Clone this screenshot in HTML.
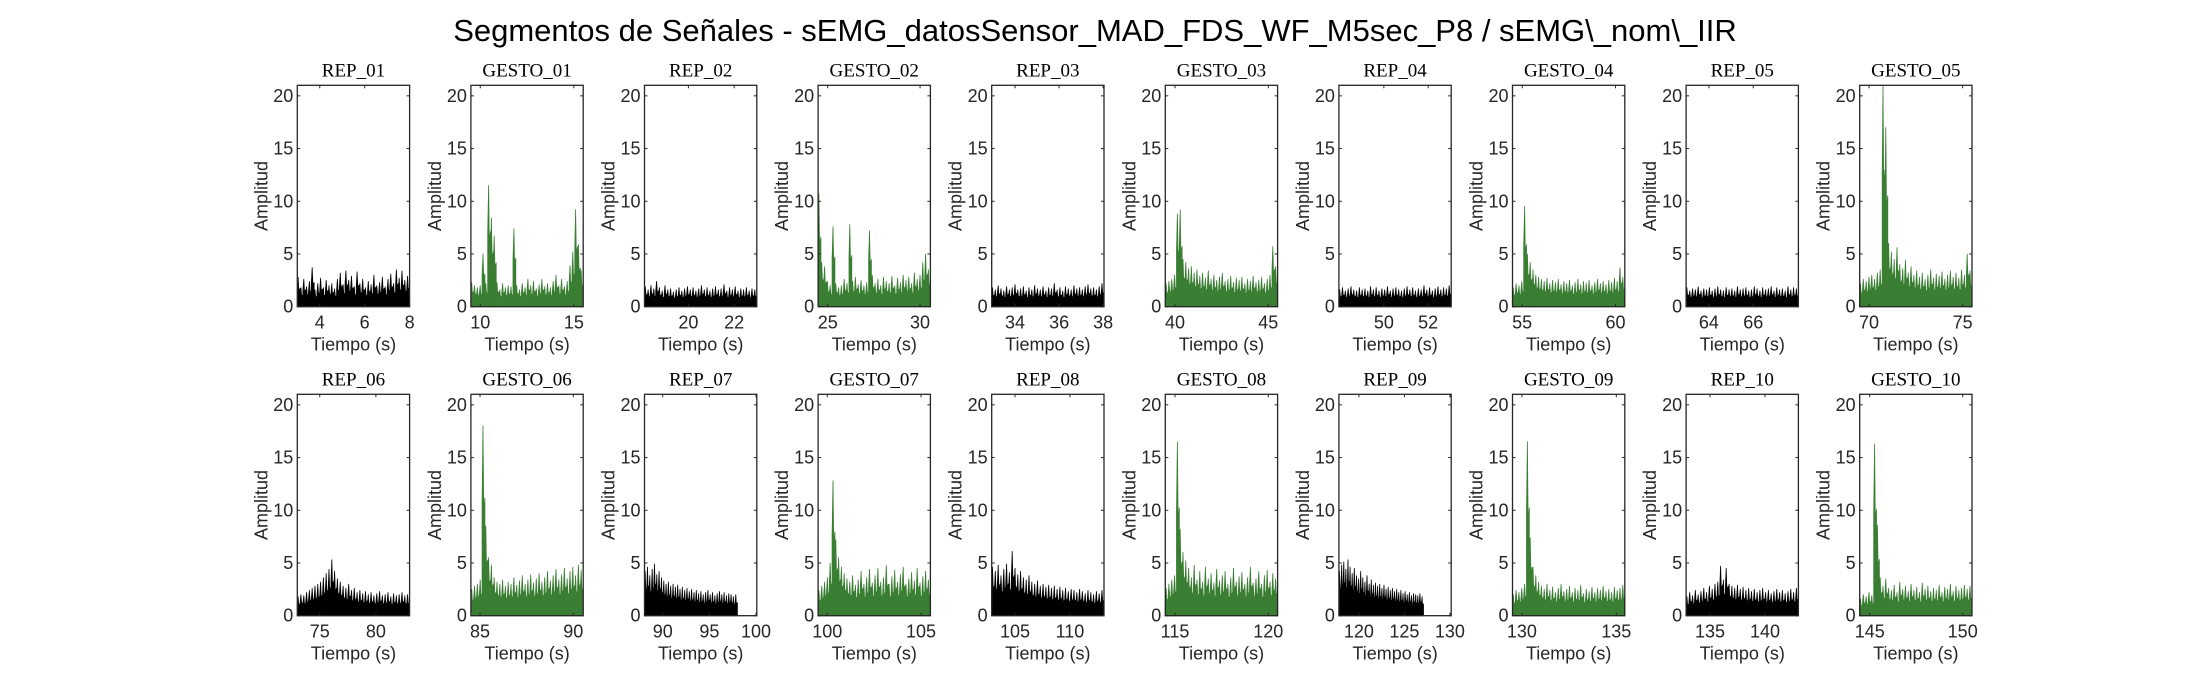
<!DOCTYPE html>
<html><head><meta charset="utf-8"><style>
body{margin:0;background:#fff;}
svg{display:block;}
text{font-family:"Liberation Sans",sans-serif;fill:#262626;}
.st{font-family:"Liberation Serif",serif;fill:#000;font-size:19px;}
</style></head><body>
<svg id="fig" width="2187" height="688" viewBox="0 0 2187 688">
<rect width="2187" height="688" fill="#fff"/>
<text x="1095" y="41" text-anchor="middle" font-size="31" style="fill:#000">Segmentos de Señales - sEMG_datosSensor_MAD_FDS_WF_M5sec_P8 / sEMG\_nom\_IIR</text>
</svg>
<script>
const titles=["REP_01","GESTO_01","REP_02","GESTO_02","REP_03","GESTO_03","REP_04","GESTO_04","REP_05","GESTO_05","REP_06","GESTO_06","REP_07","GESTO_07","REP_08","GESTO_08","REP_09","GESTO_09","REP_10","GESTO_10"];
const xMin=[3,9.5,18.08,24.48,32.94,39.48,47.97,54.48,62.97,69.5,73,84.51,88.05,99.51,102.88,114.48,117.8,129.5,132.83,144.46];
const xMax=[8,15.5,22.99,30.56,38.04,45.5,53.04,60.5,68.04,75.5,83,90.53,100.08,105.5,113.1,120.5,130.14,135.45,143.04,150.5];
const tStart=[3,9.5,18.08,24.48,32.94,39.48,47.97,54.48,62.97,69.5,73,84.51,88.05,99.51,102.88,114.48,117.8,129.5,132.83,144.46];
const tEnd=[8,15.5,22.99,30.56,38.04,45.5,53.04,60.5,68.04,75.5,83,90.53,98.0,105.5,113.1,120.5,127.1,135.45,143.04,150.5];
const xTicks=[[4,6,8],[10,15],[20,22],[25,30],[34,36,38],[40,45],[50,52],[55,60],[64,66],[70,75],[75,80],[85,90],[90,95,100],[100,105],[105,110],[115,120],[120,125,130],[130,135],[135,140],[145,150]];
const yTicks=[0,5,10,15,20];
const s01=[2.8,1.8,2.6,1.9,2.4,3.7,1.6,2.2,2.7,1.8,2.5,2.0,2.2,1.7,2.6,3.2,2.1,3.4,2.5,2.9,1.9,3.3,2.2,2.6,1.8,2.4,2.1,3.0,2.0,2.3,2.8,1.9,2.6,3.1,2.2,3.5,2.7,3.4,2.5,2.9];
const s02=[2.3,2.0,1.8,2.0,5.0,2.2,11.5,8.4,6.7,2.3,1.6,2.2,1.8,2.0,1.9,7.4,2.0,1.6,2.2,1.8,2.6,2.0,2.4,1.7,2.1,2.6,1.9,2.2,1.8,2.4,3.0,2.0,2.6,1.9,2.4,3.9,5.2,9.2,5.9,3.4];
const s03=[1.9,1.6,2.0,1.7,2.4,1.8,1.5,2.0,1.6,1.7,1.4,1.6,1.8,1.5,1.7,1.9,1.6,1.8,1.5,1.7,2.0,1.6,1.8,1.5,1.7,1.9,1.6,1.7,2.1,1.5,1.8,1.6,1.9,1.5,1.7,1.6,1.8,1.5,1.7,1.6];
const s04=[10.7,4.2,3.8,2.4,2.0,7.6,2.2,1.8,2.0,2.6,2.2,7.8,2.4,2.8,2.1,2.5,2.0,2.3,7.2,3.0,2.2,2.6,2.0,2.8,2.4,2.2,2.9,2.0,2.7,2.3,3.0,2.5,2.8,2.2,3.2,2.6,3.0,4.2,5.0,3.5];
const s05=[1.8,1.6,2.0,1.7,1.5,1.9,1.6,1.8,2.1,1.6,1.7,1.9,1.5,1.8,1.6,2.0,1.7,1.6,1.9,1.5,1.8,1.7,2.2,1.6,1.8,1.5,1.9,1.7,1.6,2.0,1.7,1.8,1.6,1.9,2.1,1.7,1.8,1.6,1.9,2.2];
const s06=[2.2,2.4,2.6,3.0,8.8,9.2,4.5,4.2,3.6,3.8,3.2,3.5,2.9,3.2,2.7,3.4,2.6,3.0,2.5,2.8,3.2,2.4,2.6,2.9,2.3,2.7,2.5,2.8,2.2,2.6,2.4,2.9,2.3,2.5,2.8,2.2,2.6,3.0,5.7,3.8];
const s07=[1.6,1.8,1.5,1.7,1.9,1.6,1.5,1.8,1.6,1.7,1.5,1.9,1.6,1.8,1.5,1.7,1.6,1.9,1.5,1.7,1.8,1.6,1.5,1.7,1.9,1.6,1.8,1.5,1.7,1.6,2.0,1.6,1.8,1.5,1.7,1.9,1.6,1.8,1.7,2.0];
const s08=[1.8,2.2,2.0,2.4,9.5,5.0,4.2,3.5,3.0,2.8,2.6,2.4,2.7,2.2,2.5,2.3,2.6,2.1,2.4,2.2,2.5,2.0,2.3,2.6,2.1,2.4,2.2,2.5,2.0,2.3,2.6,2.2,2.4,2.1,2.5,2.3,2.7,2.4,3.7,2.8];
const s09=[1.8,1.5,1.7,1.6,1.9,1.5,1.7,1.6,1.8,1.5,1.7,1.9,1.6,1.5,1.8,1.6,1.7,1.5,1.9,1.6,1.7,1.8,1.5,1.6,1.9,1.7,1.5,1.8,1.6,1.7,1.9,1.5,1.8,1.6,1.7,1.5,1.9,1.6,1.8,1.7];
const s10=[2.2,2.6,2.4,2.8,3.0,2.6,3.2,3.5,21.0,17.0,6.0,5.2,4.5,5.6,4.0,3.6,4.4,3.2,3.8,3.0,3.4,2.8,3.2,2.6,3.0,3.5,2.7,3.1,2.9,3.3,2.6,3.0,3.4,2.8,3.2,2.7,3.5,3.0,5.0,3.4];
const s11=[1.8,2.0,1.9,2.2,2.4,2.6,2.8,3.0,3.2,3.6,4.0,4.4,5.3,4.2,3.5,3.2,2.8,2.6,3.0,2.4,2.6,2.2,2.4,2.1,2.3,2.0,2.2,1.9,2.1,2.3,1.9,2.0,2.2,1.8,2.1,1.9,2.0,2.2,1.9,2.0];
const s12=[2.5,2.8,3.0,3.4,18.0,8.5,5.5,4.8,3.6,3.2,3.0,3.4,2.8,3.2,3.0,3.6,2.9,3.3,3.8,3.0,3.4,3.9,3.1,3.5,4.0,3.2,3.6,4.2,3.3,3.8,4.4,3.4,3.9,4.5,3.5,4.2,4.6,3.8,4.8,4.3];
const s13=[4.2,4.6,3.8,4.4,4.9,3.9,4.2,3.6,3.3,3.0,3.2,2.8,3.0,2.7,2.9,2.5,2.7,2.4,2.6,2.3,2.5,2.2,2.4,2.1,2.3,2.0,2.2,2.4,2.0,2.2,1.9,2.1,2.3,2.0,2.2,1.9,2.1,2.0,1.8,2.0];
const s14=[2.4,2.8,3.2,3.6,5.0,12.8,7.2,5.5,4.6,4.0,3.5,3.2,3.8,2.9,3.4,4.2,3.0,3.6,4.4,3.1,3.8,4.5,3.2,3.6,4.8,3.0,3.7,4.3,3.2,3.9,4.6,3.0,3.5,4.1,3.3,4.5,3.1,3.7,4.2,3.4];
const s15=[4.6,4.2,4.8,3.8,4.4,4.9,4.1,6.1,4.5,3.9,4.2,3.6,3.4,3.8,3.2,3.0,3.3,2.8,3.0,2.7,2.9,2.6,2.8,2.5,2.7,2.4,2.6,2.3,2.5,2.4,2.2,2.5,2.3,2.1,2.4,2.2,2.0,2.3,2.1,2.4];
const s16=[2.6,3.0,3.4,3.8,16.5,8.2,6.0,5.2,4.5,3.6,4.8,3.4,4.2,3.2,4.6,3.5,4.0,3.1,4.4,3.3,3.8,4.2,3.0,3.6,4.5,3.2,3.7,4.1,3.0,3.6,4.6,3.1,3.5,4.2,3.0,3.8,4.3,3.2,4.0,3.5];
const s17=[4.2,4.8,5.1,4.4,5.3,4.6,4.0,4.5,3.8,3.5,4.2,3.6,3.2,3.8,3.0,3.4,2.9,3.1,2.8,3.0,2.6,2.9,2.5,2.7,2.4,2.6,2.3,2.5,2.2,2.4,2.1,2.3,2.0,2.2,1.9,2.1,2.0,1.9,2.1,1.8];
const s18=[2.0,2.4,2.2,2.6,3.0,16.5,7.4,4.6,3.8,3.2,2.8,2.5,3.0,2.4,2.7,2.2,2.6,3.0,2.3,2.5,2.8,2.2,2.6,2.4,2.9,2.1,2.5,2.3,2.7,2.2,2.6,2.4,2.8,2.3,2.5,2.2,2.7,2.4,2.6,2.9];
const s19=[1.8,2.2,1.9,2.4,2.0,2.3,2.6,2.2,2.8,2.5,3.0,3.2,4.7,3.4,4.5,3.0,2.8,2.6,2.9,2.5,2.7,2.4,2.6,2.3,2.5,2.2,2.4,2.6,2.2,2.4,2.1,2.3,2.5,2.2,2.4,2.1,2.3,2.5,2.2,2.6];
const s20=[1.6,2.0,1.8,2.2,1.9,16.3,8.6,3.6,2.8,3.5,2.6,2.4,2.9,2.2,3.2,2.5,2.8,2.3,3.0,2.4,2.7,2.2,3.1,2.5,2.8,2.3,2.6,2.4,2.9,2.2,2.7,2.5,3.0,2.3,2.8,2.4,2.6,2.9,2.5,2.8];
const series=[s01,s02,s03,s04,s05,s06,s07,s08,s09,s10,s11,s12,s13,s14,s15,s16,s17,s18,s19,s20];

const NS="http://www.w3.org/2000/svg";
const svg=document.getElementById('fig');
const Y_MAX=21, W=112.3, H=221.4, LEFT0=297.3, PITCH=173.6, TOP=[85.3,394.3];
function mk(tag,attrs,parent){const e=document.createElementNS(NS,tag);for(const k in attrs)e.setAttribute(k,attrs[k]);(parent||svg).appendChild(e);return e;}

titles.forEach((ttl,k)=>{
  const row=Math.floor(k/10), col=k%10;
  const L=LEFT0+col*PITCH, T=TOP[row], B=T+H;
  const xs=v=>L+(v-xMin[k])/(xMax[k]-xMin[k])*W;
  const ys=v=>B-v/Y_MAX*H;
  const g=mk('g',{});
  
  
  const isG=ttl.startsWith('GESTO');
  const color=isG?'#3a7e33':'#000000';
  const d=series[k], n=d.length, step=(tEnd[k]-tStart[k])/n;
  let pts=[[xs(tStart[k]),ys(0)]];
  d.forEach((v,i)=>{
    const t=tStart[k]+i*step;
    pts.push([xs(t),ys(v*0.6)]);
    pts.push([xs(t+step*0.3),ys(v)]);
    pts.push([xs(t+step*0.55),ys(v*0.55)]);
    pts.push([xs(t+step),ys(v*0.62)]);
  });
  pts.push([xs(tEnd[k]),ys(0)]);
  const poly=mk('polygon',{points:pts.map(p=>p[0].toFixed(1)+','+p[1].toFixed(1)).join(' '),fill:color,stroke:color,'stroke-width':0.8,'stroke-linejoin':'round'},g);
  
  
  const box=mk('rect',{x:L,y:T,width:W,height:H,fill:'none',stroke:'#262626','stroke-width':1.3},g);
  
  
  yTicks.forEach(v=>{
    const y=ys(v);
    mk('line',{x1:L,x2:L+3,y1:y,y2:y,stroke:'#262626','stroke-width':1},g);
    mk('line',{x1:L+W-3,x2:L+W,y1:y,y2:y,stroke:'#262626','stroke-width':1},g);
    const tx=mk('text',{x:L-4,y:y+6,'text-anchor':'end','font-size':18},g);
    tx.textContent=v;
    
    
  });
  xTicks[k].forEach(v=>{
    const x=xs(v);
    mk('line',{x1:x,x2:x,y1:B,y2:B-3,stroke:'#262626','stroke-width':1},g);
    mk('line',{x1:x,x2:x,y1:T,y2:T+3,stroke:'#262626','stroke-width':1},g);
    const tx=mk('text',{x:x,y:B+22,'text-anchor':'middle','font-size':18},g);
    tx.textContent=v;
    
    
  });
  const xl=mk('text',{x:L+W/2,y:B+44,'text-anchor':'middle','font-size':18},g);
  xl.textContent='Tiempo (s)';
  
  
  const yl=mk('text',{x:0,y:0,'text-anchor':'middle','font-size':18,transform:`translate(${L-30},${T+H/2}) rotate(-90)`},g);
  yl.textContent='Amplitud';
  
  
  const st=mk('text',{x:L+W/2,y:T-9,'text-anchor':'middle',class:'st'},g);
  st.textContent=ttl;
  
  
});
</script>
</body></html>
